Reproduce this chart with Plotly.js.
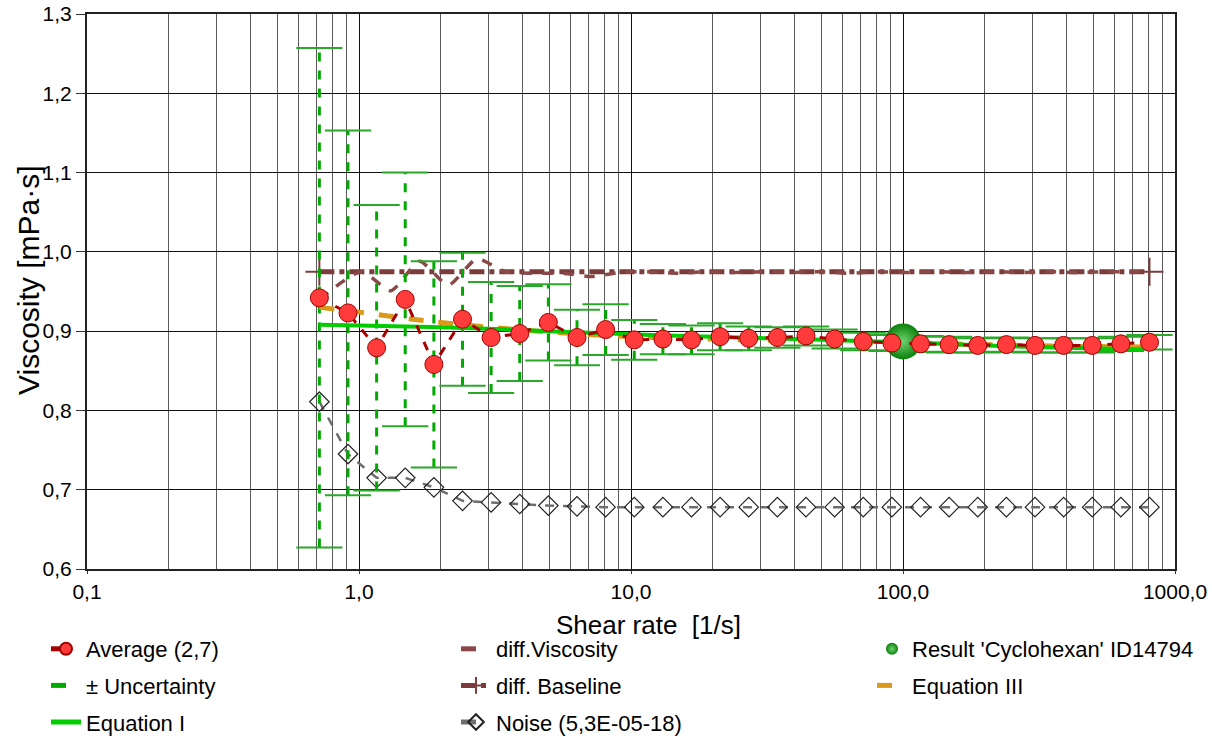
<!DOCTYPE html>
<html>
<head>
<meta charset="utf-8">
<script src="https://cdn.plot.ly/plotly-3.0.1.min.js"></script>
<style>
html,body{margin:0;padding:0;background:#fff;}
#chart{width:1212px;height:737px;}
</style>
</head>
<body>
<div id="chart"></div>
<script>
// ---- data ----
const shearRate = [0.715, 0.911, 1.161, 1.479, 1.885, 2.402, 3.060, 3.899, 4.968, 6.331, 8.066, 10.28, 13.10, 16.69, 21.26, 27.09, 34.52, 43.99, 56.05, 71.42, 91.0, 116.0, 147.8, 188.3, 239.9, 305.7, 389.5, 496.3, 632.4, 805.8];
const average = [0.942, 0.923, 0.879, 0.940, 0.858, 0.915, 0.892, 0.897, 0.911, 0.892, 0.902, 0.889, 0.890, 0.889, 0.893, 0.891, 0.892, 0.894, 0.890, 0.887, 0.885, 0.884, 0.883, 0.882, 0.883, 0.882, 0.882, 0.882, 0.884, 0.886];
const uncertainty = [0.315, 0.230, 0.180, 0.160, 0.130, 0.084, 0.070, 0.060, 0.048, 0.035, 0.032, 0.025, 0.019, 0.018, 0.017, 0.015, 0.013, 0.012, 0.012, 0.011, 0.010, 0.010, 0.010, 0.009, 0.009, 0.009, 0.009, 0.009, 0.009, 0.009];
const noise = [0.811, 0.745, 0.715, 0.715, 0.703, 0.686, 0.684, 0.682, 0.680, 0.679, 0.678, 0.678, 0.678, 0.678, 0.678, 0.678, 0.678, 0.678, 0.678, 0.678, 0.678, 0.678, 0.678, 0.678, 0.678, 0.678, 0.678, 0.678, 0.678, 0.678];
const diffX = [0.715, 1.02, 1.31, 1.67, 2.13, 2.71, 3.45, 4.40, 5.61, 7.15, 9.11, 11.6, 14.8, 18.8, 24.0, 30.6, 39.0, 49.6, 63.2, 80.6, 103, 131, 167, 212, 271, 345, 440, 560, 714, 806];
const diffViscosity = [0.940, 0.975, 0.951, 0.988, 0.958, 0.991, 0.975, 0.973, 0.973, 0.969, 0.974, 0.975, 0.973, 0.975, 0.974, 0.975, 0.974, 0.975, 0.973, 0.975, 0.974, 0.975, 0.974, 0.975, 0.974, 0.975, 0.974, 0.975, 0.975, 0.975];
const baselineX = [0.715, 805.8];
const baselineY = [0.975, 0.975];
const eq1X = [0.715, 1, 2, 5, 10, 20, 50, 100, 200, 400, 760];
const eq1Y = [0.908, 0.907, 0.905, 0.900, 0.896, 0.893, 0.889, 0.886, 0.882, 0.879, 0.877];
const eq3X = [0.715, 1, 1.5, 2, 3, 5, 10, 20, 50, 100, 200, 400, 760];
const eq3Y = [0.930, 0.924, 0.916, 0.911, 0.905, 0.899, 0.893, 0.890, 0.887, 0.885, 0.883, 0.881, 0.880];
const resultX = [100];
const resultY = [0.887];
const xTickVals = [0.1, 1, 10, 100, 1000];
const xTickText = ['0,1', '1,0', '10,0', '100,0', '1000,0'];
const xTitle = 'Shear rate \u00a0[1/s]';
const yTitle = 'Viscosity [mPa·s]';

// ---- derived helpers ----
const errX = [], errY = [], capX = [], capY = [];
shearRate.forEach((x, i) => {
  const lo = average[i] - uncertainty[i], hi = average[i] + uncertainty[i];
  errX.push(x, x, null); errY.push(lo, hi, null);
  capX.push(x, x); capY.push(lo, hi);
});
const minorVals = [];
for (let e = -1; e < 3; e++) for (let d = 2; d < 10; d++) minorVals.push(d * Math.pow(10, e));

const FONT = 'Liberation Sans, Arial, sans-serif';

const traces = [
  { x: shearRate, y: noise, name: 'Noise (5,3E-05-18)', mode: 'lines+markers', legend: 'legend2', legendgroup: 'g6', legendrank: 3,
    line: { color: '#6e6e6e', width: 2.5, dash: 'dash' },
    marker: { symbol: 'diamond-open', size: 15, color: '#222', line: { width: 1.2 } } },
  { x: baselineX, y: baselineY, name: 'diff. Baseline', mode: 'lines+markers', legend: 'legend2', legendgroup: 'g5', legendrank: 2,
    line: { color: '#7c3c3c', width: 5, dash: 'dashdot' },
    marker: { symbol: 'cross-thin', size: 20, color: '#7c3c3c', line: { width: 2, color: '#7c3c3c' } } },
  { x: diffX, y: diffViscosity, name: 'diff.Viscosity', mode: 'lines', legend: 'legend2', legendgroup: 'g4', legendrank: 1,
    line: { color: '#8a4848', width: 3.5, dash: 'dash', shape: 'spline', smoothing: 0.6 } },
  { x: errX, y: errY, name: '± Uncertainty', mode: 'lines', legend: 'legend', legendgroup: 'g2', legendrank: 2,
    line: { color: '#00aa00', width: 3, dash: 'dash' }, connectgaps: false },
  { x: capX, y: capY, name: 'caps', mode: 'markers', showlegend: false,
    marker: { symbol: 'line-ew', size: 33, color: '#2aa82a', line: { width: 2, color: '#2aa82a' } } },
  { x: eq3X, y: eq3Y, name: 'Equation III', mode: 'lines', legend: 'legend3', legendgroup: 'g8', legendrank: 2,
    line: { color: '#d99a1c', width: 5, dash: 'dash', shape: 'spline' } },
  { x: eq1X, y: eq1Y, name: 'Equation I', mode: 'lines', legend: 'legend', legendgroup: 'g3', legendrank: 3,
    line: { color: '#00cc00', width: 4, shape: 'spline' } },
  { x: resultX, y: resultY, name: "Result 'Cyclohexan' ID14794", mode: 'markers', legend: 'legend3', legendgroup: 'g7', legendrank: 1,
    marker: { symbol: 'circle', size: 36, color: '#0a800a', gradient: { type: 'radial', color: '#6fd36f' }, line: { width: 0 } } },
  { x: shearRate, y: average, name: 'Average (2,7)', mode: 'lines+markers', legend: 'legend', legendgroup: 'g1', legendrank: 1,
    line: { color: '#a80000', width: 3, dash: 'dash' },
    marker: { symbol: 'circle', size: 18, color: '#ff3b3b', line: { width: 1, color: '#a00000' } } }
];

const legendBase = {
  orientation: 'v', xref: 'container', yref: 'container', xanchor: 'left', yanchor: 'top',
  y: 1 - 628 / 737, itemsizing: 'constant', traceorder: 'grouped', tracegroupgap: 5,
  font: { family: FONT, size: 22, color: '#000' }, bgcolor: 'rgba(0,0,0,0)'
};

const layout = {
  width: 1212, height: 737,
  margin: { l: 87, r: 37, t: 14, b: 168, autoexpand: false },
  paper_bgcolor: '#fff', plot_bgcolor: '#fff',
  separators: ', ',
  font: { family: FONT, color: '#000' },
  xaxis: {
    type: 'log', range: [-1, 3],
    tickmode: 'array', tickvals: xTickVals, ticktext: xTickText, tickangle: 0,
    tickfont: { size: 21, family: FONT, color: '#000' },
    ticks: 'outside', ticklen: 3, tickcolor: '#333',
    showgrid: true, gridcolor: '#111', gridwidth: 1,
    minor: { tickmode: 'array', tickvals: minorVals, showgrid: true, gridcolor: '#5a5a5a', gridwidth: 1, ticks: '' },
    showline: true, linecolor: '#222', linewidth: 2, mirror: true,
    zeroline: false
  },
  yaxis: {
    range: [0.6, 1.3], dtick: 0.1, tick0: 0.6, tickformat: '.1f',
    tickfont: { size: 21, family: FONT, color: '#000' },
    ticks: 'outside', ticklen: 9, tickcolor: '#333',
    showgrid: true, gridcolor: '#111', gridwidth: 1,
    showline: true, linecolor: '#222', linewidth: 2, mirror: true,
    zeroline: false
  },
  annotations: [
    { text: xTitle, xref: 'paper', yref: 'paper', x: (648 - 87) / 1088, y: -(625 - 569) / 555,
      xanchor: 'center', yanchor: 'middle', showarrow: false, font: { size: 26, family: FONT, color: '#000' } },
    { text: yTitle, xref: 'paper', yref: 'paper', x: (28 - 87) / 1088, y: (569 - 280) / 555,
      xanchor: 'center', yanchor: 'middle', textangle: -90, showarrow: false, font: { size: 30, family: FONT, color: '#000' } }
  ],
  legend: Object.assign({}, legendBase, { x: 46 / 1212 }),
  legend2: Object.assign({}, legendBase, { x: 456 / 1212 }),
  legend3: Object.assign({}, legendBase, { x: 872 / 1212 }),
  showlegend: true
};

Plotly.newPlot('chart', traces, layout, { displayModeBar: false, staticPlot: true });
</script>
</body>
</html>
